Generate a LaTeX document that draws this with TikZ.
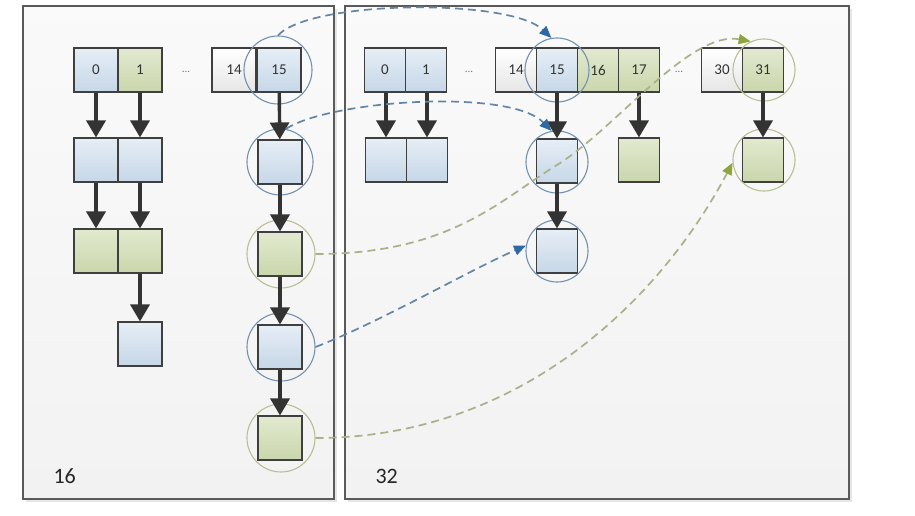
\documentclass[tikz,border=0pt]{standalone}
\usepackage{fontspec}
\setmainfont{Carlito}
\usetikzlibrary{arrows.meta}
\definecolor{edgegray}{HTML}{3F3F3F}
\definecolor{bluetop}{HTML}{E6EEF6}
\definecolor{bluebot}{HTML}{C6D7E7}
\definecolor{greentop}{HTML}{E2E9CF}
\definecolor{greenbot}{HTML}{CAD6AC}
\definecolor{whitebot}{HTML}{E6E6E6}
\definecolor{panelfill}{HTML}{F2F2F2}
\definecolor{panelline}{HTML}{5A5A5A}
\definecolor{circblue}{HTML}{7391AE}
\definecolor{circgreen}{HTML}{B9BE94}
\definecolor{dashblue}{HTML}{6585A5}
\definecolor{tipblue}{HTML}{2F69A5}
\definecolor{dashgreen}{HTML}{AAB088}
\definecolor{tipgreen}{HTML}{8FA43C}
\definecolor{arrowdark}{HTML}{333333}
\tikzset{
  cellbase/.style={draw=edgegray, line width=1.1pt, minimum height=44pt, inner sep=0pt, font=\fontsize{15}{15}\selectfont, text=black!80},
  lcell/.style={cellbase, minimum width=44pt},
  rcell/.style={cellbase, minimum width=41pt},
  blue/.style={top color=bluetop, bottom color=bluebot},
  green/.style={top color=greentop, bottom color=greenbot},
  plain/.style={top color=white, bottom color=whitebot},
  dots/.style={font=\fontsize{11}{11}\selectfont, text=black!55},
  ringblue/.style={circle, draw=circblue, line width=1.1pt, inner sep=0pt},
  ringgreen/.style={circle, draw=circgreen, line width=1.1pt, inner sep=0pt},
  bigarrow/.style={draw=arrowdark, line width=3.4pt, -{Triangle[width=19pt,length=17pt]}},
  bluedash/.style={draw=dashblue, line width=1.7pt, dash pattern=on 8pt off 5pt, -{Triangle[width=10pt,length=12pt,color=tipblue,fill=tipblue]}},
  greendash/.style={draw=dashgreen, line width=1.7pt, dash pattern=on 8pt off 5pt, -{Triangle[width=10pt,length=12pt,color=tipgreen,fill=tipgreen]}},
  panel/.style={draw=panelline, line width=1.3pt, top color=white!60!panelfill, bottom color=panelfill},
  plabel/.style={font=\fontsize{22}{22}\selectfont, text=black!85}
}
\begin{document}
\begin{tikzpicture}[x=1pt,y=-1pt]
\useasboundingbox (0,0) rectangle (915,516);
\fill[white] (0,0) rectangle (915,516);
% shadows
\fill[black!10] (26,9) rectangle (337,502);
\fill[black!10] (348,9) rectangle (852,502);
% panels
\draw[panel] (23,6) rectangle (334,499);
\draw[panel] (345,6) rectangle (849,499);
\node[plabel, anchor=west] (lab16) at (50,476) {16};
\node[plabel, anchor=west] (lab32) at (372,476) {32};

% ---------- left panel ----------
\node[lcell, blue]  (L0)  at (96,70)  {0};
\node[lcell, green] (L1)  at (140,70) {1};
\node[dots]         (Ld)  at (186,72) {...};
\node[lcell, plain] (L14) at (234,70) {14};
\node[lcell, blue]  (L15) at (279,70) {15};

\node[lcell, blue]  (La1) at (96,160)  {};
\node[lcell, blue]  (Lb1) at (140,160) {};
\node[lcell, green] (La2) at (96,251)  {};
\node[lcell, green] (Lb2) at (140,251) {};
\node[lcell, blue]  (Lb3) at (140,344) {};

\node[lcell, blue]  (Lr1) at (280,162) {};
\node[lcell, green] (Lr2) at (280,254) {};
\node[lcell, blue]  (Lr3) at (280,347) {};
\node[lcell, green] (Lr4) at (280,438) {};

\node[ringblue,  minimum size=68pt] (CL15) at (278,70)  {};
\node[ringblue,  minimum size=66pt] (CLr1) at (280,162) {};
\node[ringgreen, minimum size=68pt] (CLr2) at (281,254) {};
\node[ringblue,  minimum size=68pt] (CLr3) at (281,347) {};
\node[ringgreen, minimum size=68pt] (CLr4) at (281,438) {};

\draw[bigarrow] (L0)  -- (La1);
\draw[bigarrow] (L1)  -- (Lb1);
\draw[bigarrow] (La1) -- (La2);
\draw[bigarrow] (Lb1) -- (Lb2);
\draw[bigarrow] (Lb2) -- (Lb3);
\draw[bigarrow] (L15) -- (Lr1);
\draw[bigarrow] (Lr1) -- (Lr2);
\draw[bigarrow] (Lr2) -- (Lr3);
\draw[bigarrow] (Lr3) -- (Lr4);

% ---------- right panel ----------
\node[rcell, blue]  (R0)  at (385,70) {0};
\node[rcell, blue]  (R1)  at (426,70) {1};
\node[dots]         (Rd)  at (469,72) {...};
\node[rcell, plain] (R14) at (516,70) {14};
\node[rcell, blue]  (R15) at (557,70) {15};
\node[rcell, green] (R16) at (598,70) {16};
\node[rcell, green] (R17) at (639,70) {17};
\node[dots]         (Rd2) at (679,72) {...};
\node[rcell, plain] (R30) at (722,70) {30};
\node[rcell, green] (R31) at (763,70) {31};

\node[rcell, blue]  (Ra1)  at (386,160) {};
\node[rcell, blue]  (Rb1)  at (427,160) {};
\node[rcell, blue]  (R15a) at (557,161) {};
\node[rcell, green] (R17a) at (639,160) {};
\node[rcell, green] (R31a) at (763,160) {};
\node[rcell, blue]  (R15b) at (557,251) {};

\node[ringblue,  minimum size=64pt] (CR15)  at (557,70)  {};
\node[ringgreen, minimum size=62pt] (CR31)  at (764,70)  {};
\node[ringblue,  minimum size=62pt] (CR15a) at (557,162) {};
\node[ringgreen, minimum size=62pt] (CR31a) at (764,160) {};
\node[ringblue,  minimum size=62pt] (CR15b) at (557,251) {};

\draw[bigarrow] (R0.south -| Ra1)   -- (Ra1);
\draw[bigarrow] (R1.south -| Rb1)   -- (Rb1);
\draw[bigarrow] (R15)  -- (R15a);
\draw[bigarrow] (R15a) -- (R15b);
\draw[bigarrow] (R17)  -- (R17a);
\draw[bigarrow] (R31)  -- (R31a);

% ---------- dashed transfers ----------
\draw[bluedash] (CL15.north) .. controls (310,0) and (510,-2) .. (CR15.100);
\draw[bluedash] (CLr1.80) .. controls (330,100) and (510,88) .. (CR15a.100);
\coordinate (gmid) at (557,165);
\draw[greendash] (CLr2.east) .. controls (450,254) and (500,200) .. (gmid)
                 .. controls (614,130) and (690,30) .. (CR31.115);
\draw[bluedash] (CLr3.east) .. controls (380,322) and (470,270) .. (CR15b.170);
\draw[greendash] (CLr4.east) .. controls (520,438) and (660,300) .. (CR31a.185);
\end{tikzpicture}
\end{document}
